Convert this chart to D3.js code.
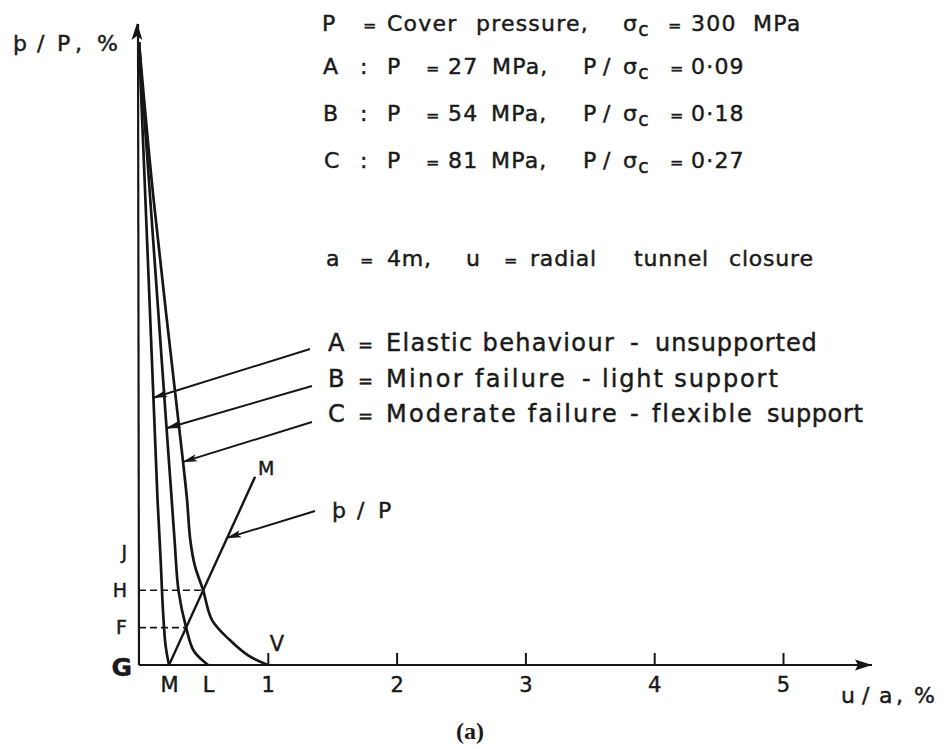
<!DOCTYPE html>
<html>
<head>
<meta charset="utf-8">
<script src="https://cdn.jsdelivr.net/npm/d3@7"></script>
<style>
  body { margin: 0; background: #fff; }
  svg text { font-family: "DejaVu Sans", sans-serif; fill: #1a1a1a; stroke: #1a1a1a; stroke-width: 0.45px; }
</style>
</head>
<body>
<svg id="chart" width="949" height="749"></svg>
<script>
// Ground reaction curves: radial closure u/a (%) against support pressure ratio p/P (%)
const curveA = [[0,100],[0.050,74.6],[0.112,42.9],[0.144,26.5],[0.168,16.9],[0.186,8.8],[0.206,3.2],[0.233,0]];
const curveB = [[0,100],[0.088,74.6],[0.214,38.0],[0.254,26.5],[0.276,20.1],[0.307,11.9],[0.366,6.0],[0.427,2.2],[0.536,0]];
const curveC = [[0,100],[0.114,74.6],[0.342,32.6],[0.373,26.5],[0.398,20.1],[0.434,15.9],[0.498,12.0],[0.567,7.2],[0.705,4.0],[0.850,1.5],[1.0,0]];
// support reaction line, starting from the end of curve A (point M)
const supportLine = [[0.233,0],[0.901,30.2]];

// axis ticks and lettered levels
const xTickValues = [1,2,3,4,5];
const yLevelNames = ["G","F","H","J"];
const yLevelValues = [0,6,12,18];
const dashedLevels = [6,12];

// pressure ratio at which each leader arrow touches its curve
const arrowCurves = ["A","B","C"];
const arrowPressures = [42.9,38.0,32.6];
const supportArrowPressure = 20.4;

const svg = d3.select("#chart");
const x = d3.scaleLinear().domain([0,5]).range([139,783]);
const y = d3.scaleLinear().domain([0,100]).range([665,42]);
const ink = "#161616";

// arrowhead marker
const defs = svg.append("defs");
defs.append("marker").attr("id","head")
  .attr("markerUnits","userSpaceOnUse")
  .attr("viewBox","0 0 15 9").attr("refX",14).attr("refY",4.5)
  .attr("markerWidth",15).attr("markerHeight",9).attr("orient","auto")
  .append("path").attr("d","M0,0.8 L15,4.5 L0,8.2 L3,4.5 Z").attr("fill",ink);

// axes lines with arrows
svg.append("line").attr("x1",x(0)).attr("y1",y(0)).attr("x2",872).attr("y2",y(0))
  .attr("stroke",ink).attr("stroke-width",2.2);
svg.append("path").attr("d",`M872,${y(0)} L855,${y(0)-5.5} L858,${y(0)} L855,${y(0)+5.5} Z`).attr("fill",ink);
svg.append("line").attr("x1",x(0)).attr("y1",y(0)).attr("x2",x(0)-1).attr("y2",24)
  .attr("stroke",ink).attr("stroke-width",2.2);
svg.append("path").attr("d",`M${x(0)-2},23 L${x(0)-7.5},40 L${x(0)-2},36 L${x(0)+3.5},40 Z`).attr("fill",ink);

// numbered ticks on u/a
const xAxis = d3.axisBottom(x).tickValues(xTickValues).tickSizeInner(-12).tickSizeOuter(0).tickPadding(12)
  .tickFormat(d3.format("d"));
const gx = svg.append("g").attr("transform",`translate(0,${y(0)})`).call(xAxis);
gx.select(".domain").remove();
gx.selectAll(".tick line").attr("stroke",ink).attr("stroke-width",2);
gx.selectAll(".tick text").style("font-size","21px").attr("fill",ink);

// M and L at the ends of curves A and B
const xPointNames = ["M","L"];
const xPointValues = [curveA[curveA.length-1][0], curveB[curveB.length-1][0]];
const xPoints = d3.axisBottom(x).tickValues(xPointValues).tickSize(0).tickPadding(12)
  .tickFormat((d,i) => xPointNames[i]);
const gp = svg.append("g").attr("transform",`translate(0,${y(0)})`).call(xPoints);
gp.select(".domain").remove();
gp.selectAll(".tick text").style("font-size","21px").attr("fill",ink);

// lettered pressure levels on p/P
const yAxis = d3.axisLeft(y).tickValues(yLevelValues).tickSize(0).tickPadding(12)
  .tickFormat((d,i) => yLevelNames[i]);
const gy = svg.append("g").attr("transform",`translate(${x(0)},0)`).call(yAxis);
gy.select(".domain").remove();
gy.selectAll(".tick text").style("font-size","19px").attr("fill",ink)
  .filter(d => d === 0).style("font-size","25px").style("font-weight","bold")
  .attr("x",-7).attr("dy","0.42em");

// support line value as a function of closure
const sSlope = (supportLine[1][1]-supportLine[0][1])/(supportLine[1][0]-supportLine[0][0]);
const supportU = p => supportLine[0][0] + (p - supportLine[0][1]) / sSlope;

// dashed reading lines at F and H
svg.selectAll(".level").data(dashedLevels).join("line")
  .attr("x1",x(0)).attr("x2",d => x(supportU(d)))
  .attr("y1",d => y(d)).attr("y2",d => y(d))
  .attr("stroke",ink).attr("stroke-width",1.6).attr("stroke-dasharray","7,4");

// curves
const line = d3.line().x(d => x(d[0])).y(d => y(d[1])).curve(d3.curveCatmullRom.alpha(0.5));
const curves = {A: curveA, B: curveB, C: curveC};
svg.selectAll(".grc").data([curveA,curveB,curveC]).join("path")
  .attr("d",line).attr("fill","none").attr("stroke",ink).attr("stroke-width",2.7)
  .attr("stroke-linejoin","round");

svg.append("path").datum(supportLine).attr("d",d3.line().x(d => x(d[0])).y(d => y(d[1])))
  .attr("stroke",ink).attr("stroke-width",2.4).attr("fill","none");

// closure on a curve at a given pressure ratio
function uAt(data, p) {
  for (let i = 0; i < data.length-1; i++) {
    const a = data[i], b = data[i+1];
    if (p <= a[1] && p >= b[1]) {
      const t = (a[1]-p)/(a[1]-b[1]);
      return a[0] + t*(b[0]-a[0]);
    }
  }
  return data[data.length-1][0];
}

// leader arrows to the curves
const leaderStarts = [[310,349],[312,386],[312,422]];
arrowCurves.forEach((k,i) => {
  const p = arrowPressures[i];
  svg.append("line")
    .attr("x1",leaderStarts[i][0]).attr("y1",leaderStarts[i][1])
    .attr("x2",x(uAt(curves[k],p))).attr("y2",y(p))
    .attr("stroke",ink).attr("stroke-width",1.9).attr("marker-end","url(#head)");
});
svg.append("line").attr("x1",315).attr("y1",511)
  .attr("x2",x(supportU(supportArrowPressure))).attr("y2",y(supportArrowPressure))
  .attr("stroke",ink).attr("stroke-width",1.9).attr("marker-end","url(#head)");

// text placed piece by piece: [text, x, end x or null, subscript]
function words(parts, yb, size, spacing) {
  const t = svg.append("text").attr("y",yb).style("font-size",size+"px")
    .style("letter-spacing",(spacing === undefined ? 1.2 : spacing)+"px");
  parts.forEach(p => {
    const s = t.append("tspan").attr("x",p[1]).attr("y",yb).text(p[0]);
    if (p[0] === "=") s.style("font-size",(size-6)+"px");
    if (p[2]) s.attr("textLength",p[2]-p[1]).attr("lengthAdjust","spacing");
    if (p[3]) t.append("tspan").attr("y",yb+5).style("font-size",(size-3)+"px").text(p[3]);
  });
  return t;
}
words([["P",322],["=",363],["Cover",387],["pressure,",476],["σ",623,null,"c"],["=",668],["300",691],["MPa",753]],31,22);
words([["A",323],[":",360],["P",387],["=",426],["27",448],["MPa,",492],["P",583],["/",603],["σ",623,null,"c"],["=",670],["0·09",691]],74,22);
words([["B",323],[":",360],["P",387],["=",426],["54",448],["MPa,",491],["P",583],["/",603],["σ",623,null,"c"],["=",670],["0·18",691]],121,22);
words([["C",324],[":",360],["P",387],["=",426],["81",448],["MPa,",491],["P",583],["/",603],["σ",623,null,"c"],["=",670],["0·27",691]],168,22);
words([["a",326],["=",360],["4m,",387],["u",466],["=",504],["radial",530],["tunnel",634],["closure",729]],266,22,0.8);

words([["A",328],["=",358],["Elastic behaviour",386,615],["-",630],["unsupported",655,818]],351,24);
words([["B",328],["=",358],["Minor failure",386,566],["- light support",582,779]],387,24);
words([["C",328],["=",358],["Moderate failure",386,618],["-",630],["flexible",652,753],["support",767,864]],422,24);

// axis titles and annotations
words([["þ",13],["/",37],["P",57],[",",75],["%",97]],51,22);
words([["u",841],["/",862],["a",879],[",",896],["%",914]],703,22);
words([["þ",332],["/",357],["P",378]],518,22);
words([["M",258]],475,19);
svg.append("text").attr("x",x(1)+2).attr("y",651).style("font-size","21px").text("V");

svg.append("text").attr("x",470).attr("y",739).attr("text-anchor","middle")
  .style("font-family","'Liberation Serif', serif").style("font-weight","bold").style("font-size","24px")
  .style("stroke-width","0px")
  .text("(a)");
</script>
</body>
</html>
